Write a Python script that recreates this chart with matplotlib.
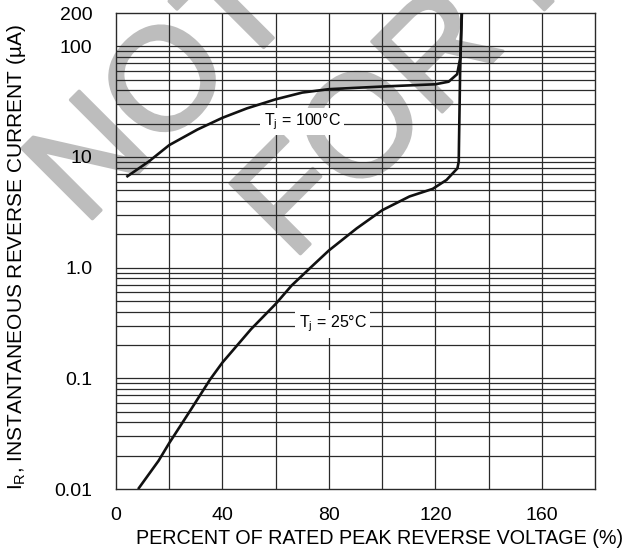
import matplotlib

matplotlib.use("Agg")
import matplotlib.pyplot as plt
import matplotlib.patheffects as pe
import numpy as np

# percent of rated peak reverse voltage vs reverse current (uA)
volts_25c = [8.6, 16.0, 20.0, 28.1, 35.4, 40.0, 50.8, 60.0, 66.0, 72.7, 80.0, 90.4,
             100.0, 110.3, 119.0, 124.2, 128.3, 128.8, 128.9, 129.3, 129.9]
current_25c = [0.0102, 0.018, 0.026, 0.052, 0.098, 0.139, 0.279, 0.47, 0.69, 0.98,
               1.43, 2.26, 3.3, 4.4, 5.15, 6.2, 7.9, 9.1, 13.8, 56.0, 204.0]

volts_100c = [4.3, 12.3, 20.0, 30.6, 40.0, 49.2, 60.0, 70.0, 80.0, 100.0, 120.0,
              125.0, 128.2, 129.4, 130.0]
current_100c = [6.7, 9.1, 12.8, 17.7, 22.6, 27.5, 33.2, 38.2, 41.0, 43.3, 45.4,
                47.9, 56.0, 79.4, 204.0]

x_ticks = [0, 40, 80, 120, 160]
y_ticks = [0.01, 0.1, 1.0, 10, 100, 200]
y_tick_labels = ["0.01", "0.1", "1.0", "10", "100", "200"]

plt.rcParams.update(
    {
        "font.family": ["Liberation Sans", "DejaVu Sans"],
        "mathtext.default": "regular",
    }
)

fig = plt.figure(figsize=(6.33, 5.52), dpi=100)
ax = fig.add_axes([116 / 633, 1 - 489 / 552, 479 / 633, 476 / 552])

ax.set_yscale("log")
ax.set_xlim(0, 180)
ax.set_ylim(0.01, 200)

grid_kw = dict(color="#2a2a2a", linewidth=0.9, zorder=1)
for x in range(20, 180, 20):
    ax.axvline(x, **grid_kw)
for decade in [0.01, 0.1, 1, 10]:
    for m in range(1, 10):
        if decade * m > 0.01:
            ax.axhline(decade * m, **grid_kw)
ax.axhline(100, **grid_kw)

# watermark, under the grid
wm_color = "#bdbdbd"
wm_kw = dict(
    transform=fig.transFigure,
    rotation=45,
    rotation_mode="anchor",
    ha="left",
    va="baseline",
    fontsize=104,
    color=wm_color,
    zorder=0.5,
    clip_on=False,
    path_effects=[pe.withStroke(linewidth=2.5, foreground=wm_color)],
)
ax.text(84 / 633, 1 - 227 / 552, "NOT RECOMMENDED", **wm_kw)
ax.text(292 / 633, 1 - 262 / 552, "FOR NEW DESIGN", **wm_kw)

ax.plot(volts_100c, current_100c, color="#111111", linewidth=1.9, zorder=3)
ax.plot(volts_25c, current_25c, color="#111111", linewidth=1.9, zorder=3)

box = dict(facecolor="white", edgecolor="none", pad=2.5)
ax.text(70, 21, "T$_j$ = 100°C", fontsize=11.5, ha="center", va="center",
        bbox=box, zorder=4)
ax.text(81.5, 0.31, "T$_j$ = 25°C", fontsize=11.5, ha="center", va="center",
        bbox=box, zorder=4)

ax.set_xticks(x_ticks, [str(v) for v in x_ticks])
ax.set_yticks(y_ticks, y_tick_labels)
ax.yaxis.set_minor_locator(matplotlib.ticker.NullLocator())
ax.tick_params(axis="x", length=0, pad=13, labelsize=14)
ax.tick_params(axis="y", length=0, pad=17, labelsize=14)
for spine in ax.spines.values():
    spine.set_color("#2a2a2a")
    spine.set_linewidth(1.0)

fig.text(380 / 633, 1 - 538 / 552, "PERCENT OF RATED PEAK REVERSE VOLTAGE (%)",
         fontsize=14.2, ha="center", va="center")
fig.text(17 / 633, 1 - 257 / 552, "I$_R$, INSTANTANEOUS REVERSE CURRENT (µA)",
         fontsize=15, rotation=90, ha="center", va="center")

fig.savefig("out.png", dpi=100)
